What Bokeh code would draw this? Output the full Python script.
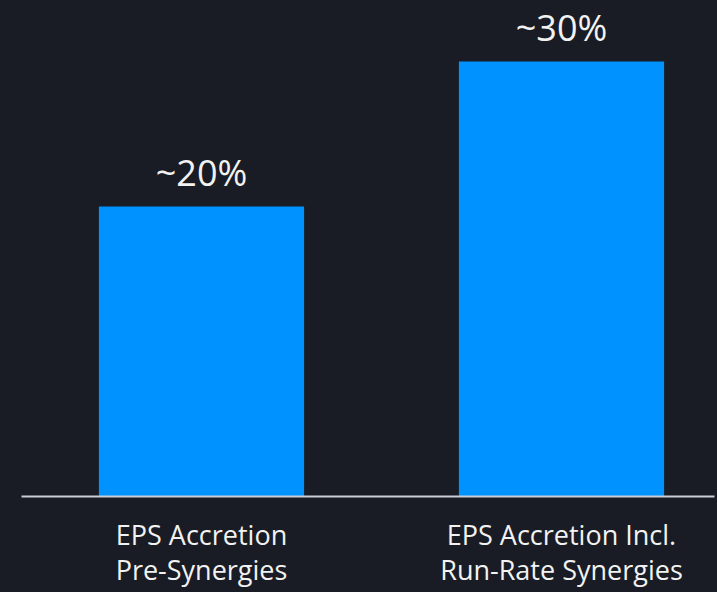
from bokeh.plotting import figure
from bokeh.models import Range1d, ColumnDataSource, FixedTicker
from bokeh.core.properties import value
from bokeh.embed import file_html
from bokeh.resources import INLINE

categories = ["EPS Accretion\nPre-Synergies", "EPS Accretion Incl.\nRun-Rate Synergies"]
positions = [0.5, 1.5]
values = [20, 30]
labels = ["~20%", "~30%"]

BG = "#191c24"
BAR = "#0092ff"

src = ColumnDataSource(dict(x=positions, top=values, label=labels))

p = figure(width=717, height=592, output_backend="svg", toolbar_location=None,
           x_range=Range1d(0, 1.925), y_range=Range1d(0, 34.2),
           min_border_left=21, min_border_right=3, min_border_top=0, min_border_bottom=96)
p.background_fill_color = BG
p.border_fill_color = BG
p.styles = {"background-color": BG}
p.outline_line_color = None
p.grid.visible = False
p.yaxis.visible = False

p.vbar(x="x", top="top", bottom=0, width=0.57, source=src, fill_color=BAR, line_color=None)
p.text(x="x", y="top", text="label", source=src, text_align="center", text_baseline="alphabetic",
       y_offset=-34, text_font=value("Open Sans"), text_font_size="36px", text_color="#f2f2f2")

xa = p.xaxis[0]
xa.ticker = FixedTicker(ticks=positions)
xa.major_label_overrides = {pos: cat for pos, cat in zip(positions, categories)}
xa.axis_line_color = "#c9ccd6"
xa.axis_line_width = 2
xa.major_tick_line_color = None
xa.minor_tick_line_color = None
xa.major_label_text_font = "Open Sans"
xa.major_label_text_font_size = "27px"
xa.major_label_text_color = "#f2f2f2"
xa.major_label_text_line_height = 0.96
xa.major_label_standoff = 13

open("out.html", "w").write(file_html(p, INLINE))
